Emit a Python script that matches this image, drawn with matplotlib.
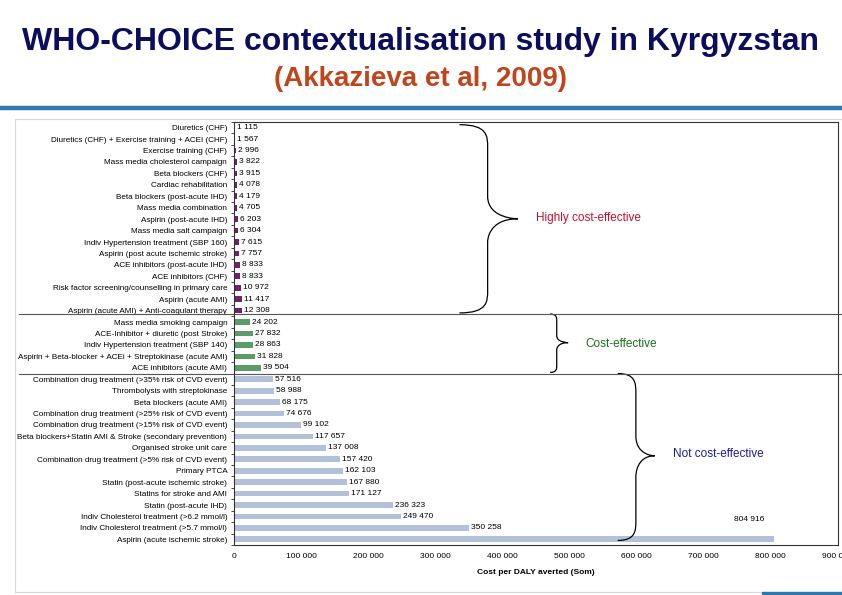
"""WHO-CHOICE contextualisation study in Kyrgyzstan: cost per DALY averted by intervention."""

import matplotlib

matplotlib.use("Agg")
import matplotlib.pyplot as plt
import numpy as np
from matplotlib.patches import PathPatch, Rectangle
from matplotlib.path import Path
from matplotlib.ticker import FuncFormatter, MultipleLocator
from matplotlib.transforms import blended_transform_factory

plt.rcParams["font.family"] = ["Liberation Sans", "DejaVu Sans"]

# Interventions, ordered as in the chart (top to bottom)
HIGHLY = [
    "Diuretics (CHF)",
    "Diuretics (CHF) + Exercise training + ACEI (CHF)",
    "Exercise training (CHF)",
    "Mass media cholesterol campaign",
    "Beta blockers (CHF)",
    "Cardiac rehabilitation",
    "Beta blockers (post-acute IHD)",
    "Mass media combination",
    "Aspirin (post-acute IHD)",
    "Mass media salt campaign",
    "Indiv Hypertension treatment (SBP 160)",
    "Aspirin (post acute ischemic stroke)",
    "ACE inhibitors (post-acute IHD)",
    "ACE inhibitors (CHF)",
    "Risk factor screening/counselling in primary care",
    "Aspirin (acute AMI)",
    "Aspirin (acute AMI) + Anti-coagulant therapy",
]
HIGHLY_COST = [1115, 1567, 2996, 3822, 3915, 4078, 4179, 4705, 6203, 6304,
               7615, 7757, 8833, 8833, 10972, 11417, 12308]

EFFECTIVE = [
    "Mass media smoking campaign",
    "ACE-Inhibitor + diuretic (post Stroke)",
    "Indiv Hypertension treatment (SBP 140)",
    "Aspirin + Beta-blocker + ACEi + Streptokinase (acute AMI)",
    "ACE inhibitors (acute AMI)",
]
EFFECTIVE_COST = [24202, 27832, 28863, 31828, 39504]

NOT_EFFECTIVE = [
    "Combination drug treatment (>35% risk of CVD event)",
    "Thrombolysis with streptokinase",
    "Beta blockers (acute AMI)",
    "Combination drug treatment (>25% risk of CVD event)",
    "Combination drug treatment (>15% risk of CVD event)",
    "Beta blockers+Statin AMI & Stroke (secondary prevention)",
    "Organised stroke unit care",
    "Combination drug treatment (>5% risk of CVD event)",
    "Primary PTCA",
    "Statin (post-acute ischemic stroke)",
    "Statins for stroke and AMI",
    "Statin (post-acute IHD)",
    "Indiv Cholesterol treatment (>6.2 mmol/l)",
    "Indiv Cholesterol treatment (>5.7 mmol/l)",
    "Aspirin (acute ischemic stroke)",
]
NOT_EFFECTIVE_COST = [57516, 58988, 68175, 74676, 99102, 117657, 137008, 157420,
                      162103, 167880, 171127, 236323, 249470, 350258, 804916]

GROUP_LABELS = ["Highly cost-effective", "Cost-effective", "Not cost-effective"]
X_MAX = 900000

PURPLE = "#6e216d"
GREEN = "#5c9c68"
LIGHT_BLUE = "#b3c0d9"
GROUP_COLORS = ["#c8102e", "#1d6e1d", "#1c1c9c"]


def som(v, _pos=None):
    """Format a number with a space as thousands separator."""
    return f"{int(v):,}".replace(",", " ")


def brace(ax, x_end, x_mid, x_tip, y0, y1, y_tip):
    """Draw a right-facing curly brace in data coordinates."""
    r = (y1 - y0) * 0.06
    verts = [
        (x_end, y0),
        (x_mid, y0), (x_mid, y0 + r), (x_mid, y0 + 2 * r),
        (x_mid, y_tip - 2 * r),
        (x_mid, y_tip), (x_tip, y_tip), (x_tip, y_tip),
        (x_mid, y_tip), (x_mid, y_tip + 2 * r), (x_mid, y_tip + 2 * r),
        (x_mid, y1 - 2 * r),
        (x_mid, y1 - r), (x_mid, y1), (x_end, y1),
    ]
    codes = [Path.MOVETO,
             Path.CURVE4, Path.CURVE4, Path.CURVE4,
             Path.LINETO,
             Path.CURVE4, Path.CURVE4, Path.CURVE4,
             Path.CURVE4, Path.CURVE4, Path.CURVE4,
             Path.LINETO,
             Path.CURVE4, Path.CURVE4, Path.CURVE4]
    ax.add_patch(PathPatch(Path(verts, codes), fill=False, lw=0.9, color="black",
                           clip_on=False))


labels = HIGHLY + EFFECTIVE + NOT_EFFECTIVE
costs = np.array(HIGHLY_COST + EFFECTIVE_COST + NOT_EFFECTIVE_COST)
colors = [PURPLE] * len(HIGHLY) + [GREEN] * len(EFFECTIVE) + [LIGHT_BLUE] * len(NOT_EFFECTIVE)
ypos = np.arange(len(labels))

fig = plt.figure(figsize=(8.42, 5.95), dpi=100)
ax = fig.add_axes([0.278, 0.084, 0.717, 0.711])

ax.barh(ypos, costs, height=0.5, color=colors)
for y, c in zip(ypos[:-1], costs[:-1]):
    ax.text(c + 3000, y, som(c), va="center", ha="left", fontsize=6)
# the longest bar has its label set above the bar end
ax.text(costs[-1] - 15000, ypos[-1] - 1.7, som(costs[-1]), va="center", ha="right", fontsize=6)

ax.set_xlim(0, X_MAX)
ax.set_ylim(len(labels) - 0.5, -0.5)
ax.set_yticks(ypos)
ax.set_yticklabels(labels, fontsize=5.85)
ax.yaxis.set_minor_locator(MultipleLocator(1, offset=0.5))
ax.tick_params(axis="y", which="major", length=0, pad=5)
ax.tick_params(axis="y", which="minor", length=2, width=0.5)
ax.xaxis.set_major_locator(MultipleLocator(100000))
ax.xaxis.set_major_formatter(FuncFormatter(som))
ax.tick_params(axis="x", length=0, labelsize=6, pad=6)
ax.set_xlabel("Cost per DALY averted (Som)", fontsize=6, fontweight="bold", labelpad=6)
for side in ("top", "bottom", "left", "right"):
    ax.spines[side].set_linewidth(0.8)
    ax.spines[side].set_color("#333333")

# group separators run across the whole chart frame
n_hi, n_ce = len(HIGHLY), len(EFFECTIVE)
sep = blended_transform_factory(fig.transFigure, ax.transData)
for y in (n_hi - 0.7, n_hi + n_ce - 0.5):
    ax.plot([0.022, 1.0], [y, y], color="#555555", lw=0.8, transform=sep, clip_on=False)

# braces and group names
brace(ax, 336000, 378000, 423000, -0.26, n_hi - 0.8, 7.97)
brace(ax, 471000, 481000, 498000, n_hi - 0.7, n_hi + n_ce - 0.6, 18.8)
brace(ax, 572000, 599000, 627000, n_hi + n_ce - 0.5, len(labels) - 0.9, 28.7)
ax.text(450000, 7.9, GROUP_LABELS[0], color=GROUP_COLORS[0], fontsize=8.5, va="center")
ax.text(523000, 18.95, GROUP_LABELS[1], color=GROUP_COLORS[1], fontsize=8.5, va="center")
ax.text(654000, 28.5, GROUP_LABELS[2], color=GROUP_COLORS[2], fontsize=8.5, va="center")

# slide decorations
fig.text(0.5, 0.93, "WHO-CHOICE contextualisation study in Kyrgyzstan",
         ha="center", va="center", fontsize=23, fontweight="bold", color="#0d0d5e")
fig.text(0.5, 0.868, "(Akkazieva et al, 2009)",
         ha="center", va="center", fontsize=20, fontweight="bold", color="#c0451c")
fig.add_artist(plt.Line2D([0, 1], [0.818, 0.818], color="#2e78b0", lw=3.2))
fig.add_artist(Rectangle((0.018, 0.005), 0.99, 0.795, fill=False, ec="#d8d8d8", lw=0.8))
fig.add_artist(Rectangle((0.905, -0.01), 0.1, 0.015, color="#2e78b0"))

fig.savefig("out.png", dpi=100)
